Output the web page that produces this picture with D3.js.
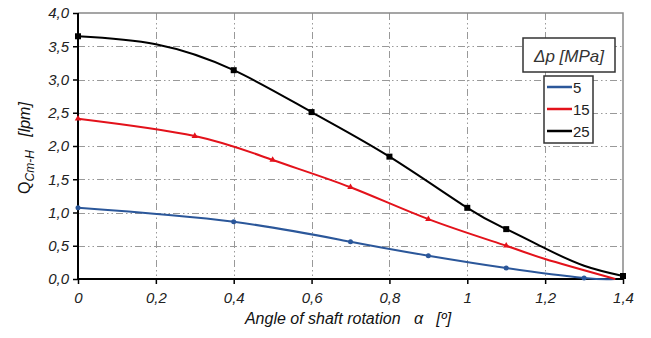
<!DOCTYPE html>
<html><head><meta charset="utf-8">
<script src="https://cdn.jsdelivr.net/npm/d3@7"></script>
<style>body{margin:0;background:#fff}svg{display:block;font-family:"Liberation Sans",Arial,sans-serif}text{white-space:pre}</style>
</head><body><svg id="c" width="651" height="338"></svg>
<script>
// Data
const xTicks = [0, 0.2, 0.4, 0.6, 0.8, 1, 1.2, 1.4];
const xTickLabels = ["0", "0,2", "0,4", "0,6", "0,8", "1", "1,2", "1,4"];
const yTicks = [0, 0.5, 1, 1.5, 2, 2.5, 3, 3.5, 4];
const yTickLabels = ["0,0", "0,5", "1,0", "1,5", "2,0", "2,5", "3,0", "3,5", "4,0"];
const seriesNames = ["5", "15", "25"];
const seriesColors = ["#2b579a", "#e3121b", "#000000"];
// curve points [alpha, Q]
const curve5  = [[0,1.07],[0.4,0.86],[0.7,0.56],[0.9,0.35],[1.1,0.165],[1.3,0.015],[1.38,0]];
const curve15 = [[0,2.41],[0.3,2.15],[0.5,1.79],[0.7,1.38],[0.9,0.9],[1.1,0.5],[1.2,0.3],[1.38,0]];
const curve25 = [[0,3.65],[0.2,3.53],[0.4,3.14],[0.6,2.51],[0.8,1.84],[1.0,1.07],[1.1,0.75],[1.2,0.46],[1.3,0.2],[1.4,0.045]];
// x positions carrying a marker
const marks5  = [0, 0.4, 0.7, 0.9, 1.1, 1.3];
const marks15 = [0, 0.3, 0.5, 0.7, 0.9, 1.1];
const marks25 = [0, 0.4, 0.6, 0.8, 1.0, 1.1, 1.4];

const svg = d3.select("#c");
const x = d3.scaleLinear().domain([0, 1.4]).range([78, 623]);
const y = d3.scaleLinear().domain([0, 4]).range([279, 13]);

// grid
const grid = svg.append("g").attr("stroke", "#999").attr("stroke-width", 1)
  .attr("stroke-dasharray", "7,3,1.5,3,1.5,3");
grid.selectAll(".vg").data(xTicks.slice(1, -1)).join("line")
  .attr("x1", d => Math.round(x(d)) + 0.5).attr("x2", d => Math.round(x(d)) + 0.5)
  .attr("y1", y(4)).attr("y2", y(0));
grid.selectAll(".hg").data(yTicks.slice(1, -1)).join("line")
  .attr("y1", d => Math.round(y(d)) + 0.5).attr("y2", d => Math.round(y(d)) + 0.5)
  .attr("x1", x(0)).attr("x2", x(1.4));
// top & right border
svg.append("path").attr("fill", "none").attr("stroke", "#888").attr("stroke-width", 1.5)
  .attr("d", `M${x(0)},${y(4)}H${x(1.4)}V${y(0)}`);

// axes
const xAxis = svg.append("g").attr("transform", `translate(0,${y(0)})`)
  .call(d3.axisBottom(x).tickValues(xTicks).tickFormat((d, i) => xTickLabels[i]).tickSize(5).tickPadding(8));
const yAxis = svg.append("g").attr("transform", `translate(${x(0)},0)`)
  .call(d3.axisLeft(y).tickValues(yTicks).tickFormat((d, i) => yTickLabels[i]).tickSize(5).tickPadding(4));
[xAxis, yAxis].forEach(a => {
  a.select(".domain").attr("stroke", "#000").attr("stroke-width", 2);
  a.selectAll(".tick line").attr("stroke", "#000").attr("stroke-width", 1.5);
  a.selectAll("text").attr("font-size", 15).attr("font-style", "italic").attr("fill", "#222")
    .attr("font-family", "Liberation Sans, Arial, sans-serif");
});
xAxis.select(".domain").attr("d", `M${x(0)},0H${x(1.4)}`);
yAxis.select(".domain").attr("d", `M0,${y(0)}V${y(4)}`);

// lines
const line = d3.line().x(d => x(d[0])).y(d => y(d[1])).curve(d3.curveNatural);
const curves = [curve5, curve15, curve25];
curves.forEach((c, i) => {
  svg.append("path").datum(c).attr("fill", "none").attr("stroke", seriesColors[i])
    .attr("stroke-width", 2).attr("d", line);
});
const lookup = (c, xv) => c.find(p => Math.abs(p[0] - xv) < 1e-9);
// blue circles
svg.append("g").selectAll("circle").data(marks5.map(v => lookup(curve5, v))).join("circle")
  .attr("cx", d => x(d[0])).attr("cy", d => y(d[1])).attr("r", 2.5).attr("fill", seriesColors[0]);
// red triangles
svg.append("g").selectAll("path").data(marks15.map(v => lookup(curve15, v))).join("path")
  .attr("transform", d => `translate(${x(d[0])},${y(d[1])})`)
  .attr("d", d3.symbol(d3.symbolTriangle, 18)).attr("fill", seriesColors[1]);
// black squares
svg.append("g").selectAll("rect").data(marks25.map(v => lookup(curve25, v))).join("rect")
  .attr("x", d => x(d[0]) - 3).attr("y", d => y(d[1]) - 3).attr("width", 6).attr("height", 6)
  .attr("fill", seriesColors[2]);

// axis titles
svg.append("text").attr("x", 348).attr("y", 324).attr("text-anchor", "middle")
  .attr("font-size", 16).attr("font-style", "italic").attr("fill", "#111")
  .text("Angle of shaft rotation   α   [º]");
const yt = svg.append("text").attr("transform", "translate(30,148) rotate(-90)")
  .attr("text-anchor", "middle").attr("font-size", 16).attr("fill", "#111");
yt.append("tspan").text("Q");
yt.append("tspan").attr("font-size", 12).attr("font-style", "italic").attr("dy", 4).text("Cm-H");
yt.append("tspan").attr("font-style", "italic").attr("dy", -4).text("   [lpm]");

// legend
const lg = svg.append("g");
lg.append("rect").attr("x", 523).attr("y", 38).attr("width", 92).attr("height", 34)
  .attr("fill", "#fff").attr("stroke", "#333").attr("stroke-width", 1.5);
const lt = lg.append("text").attr("x", 569).attr("y", 62).attr("text-anchor", "middle")
  .attr("font-size", 17).attr("font-style", "italic").attr("fill", "#333");
lt.append("tspan").text("Δp [MPa]");
lg.append("rect").attr("x", 544).attr("y", 76).attr("width", 49).attr("height", 67)
  .attr("fill", "#fff").attr("stroke", "#333").attr("stroke-width", 1.5);
seriesNames.forEach((n, i) => {
  const yy = 87 + i * 22;
  lg.append("line").attr("x1", 547).attr("x2", 572).attr("y1", yy).attr("y2", yy)
    .attr("stroke", seriesColors[i]).attr("stroke-width", 2.5);
  lg.append("text").attr("x", 573).attr("y", yy + 5.5).attr("font-size", 15).attr("fill", "#222").text(n);
});
</script></body></html>
